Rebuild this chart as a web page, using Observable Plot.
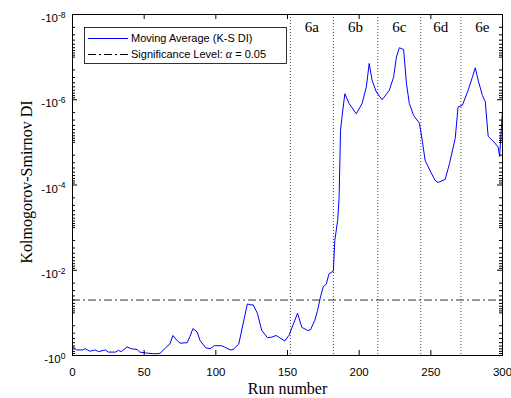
<!DOCTYPE html>
<html><head><meta charset="utf-8">
<script src="https://cdn.jsdelivr.net/npm/d3@7"></script>
<script src="https://cdn.jsdelivr.net/npm/@observablehq/plot@0.6"></script>
<style>body{margin:0;background:#fff}</style>
</head><body><div id="chart"></div>
<script>
// Run numbers
const runs = [
  0, 3, 7, 9, 12, 16, 18, 23, 25, 30,
  32, 34, 38, 41, 45, 47, 51, 57, 61, 65,
  68, 70, 73, 75, 80, 82, 84, 87, 89, 93,
  96, 99, 104, 106, 110, 112, 116, 119, 122, 124,
  126, 129, 132, 136, 139, 142, 144, 148, 151, 157,
  160, 164, 166, 169, 171, 173, 175, 177, 179, 182,
  183, 185, 186, 187, 188, 190, 193, 198, 202, 205,
  207, 209, 212, 216, 221, 224, 226, 228, 231, 233,
  235, 238, 242, 244, 246, 250, 253, 255, 260, 263,
  267, 269, 272, 276, 279, 281, 283, 286, 288, 290,
  294, 297, 298, 300
];
// Moving average of the K-S DI (negative values)
const ksdi = [
  -0.617, -0.741, -0.741, -0.692, -0.794, -0.741, -0.813, -0.741, -0.832, -0.832,
  -0.759, -0.813, -0.631, -0.692, -0.724, -0.832, -0.871, -0.912, -0.891, -0.661,
  -0.537, -0.339, -0.447, -0.513, -0.501, -0.355, -0.234, -0.282, -0.447, -0.661,
  -0.692, -0.589, -0.589, -0.631, -0.741, -0.724, -0.537, -0.182, -0.0617, -0.0646,
  -0.0646, -0.102, -0.257, -0.380, -0.372, -0.339, -0.372, -0.457, -0.339, -0.102,
  -0.219, -0.257, -0.251, -0.151, -0.0871, -0.0427, -0.0240, -0.0214, -0.0120, -0.0105,
  -0.0020, -6.76e-4, -2.0e-4, -5.25e-6, -2.57e-6, -7.24e-7, -1.23e-6, -2.14e-6, -1.23e-6, -5.01e-7,
  -1.41e-7, -3.47e-7, -6.61e-7, -1.0e-6, -6.03e-7, -2.95e-7, -1.0e-7, -6.03e-8, -6.61e-8, -4.17e-7,
  -1.23e-6, -2.34e-6, -3.55e-6, -8.91e-6, -2.63e-5, -5.01e-5, -7.76e-5, -8.71e-5, -7.41e-5, -3.16e-5,
  -8.13e-6, -1.48e-6, -1.35e-6, -6.03e-7, -2.95e-7, -1.78e-7, -3.47e-7, -7.94e-7, -1.12e-6, -7.24e-6,
  -9.77e-6, -1.29e-5, -2.14e-5, -1.78e-6
];
const alphaLevel = -0.05;
const phaseBounds = [152, 182, 213, 243, 271];
const phaseLabels = ["6a", "6b", "6c", "6d", "6e"];
const phaseLabelRuns = [167, 197.5, 228, 257, 286];
const xTicks = [0, 50, 100, 150, 200, 250, 300];
const yTickValues = [-1e-8, -1e-6, -1e-4, -1e-2, -1];
const yTickLabels = ["-10^-8", "-10^-6", "-10^-4", "-10^-2", "-10^0"];
const legendLabels = ["Moving Average (K-S DI)", "Significance Level: ", "\u03b1", " = 0.05"];
const xTitle = "Run number";
const yTitle = "Kolmogorov-Smirnov DI";

const data = runs.map((r, i) => ({run: r, di: ksdi[i]}));
const yMajor = yTickValues.map(v => -v);
const yMinor = [];
for (let e = -8; e < 0; e++) for (let k = 1; k < 10; k++) {
  const v = k * Math.pow(10, e);
  if (!(k === 1 && e % 2 === 0)) yMinor.push(v);
}

const W = 511, H = 398, mL = 72, mR = 9, mT = 14, mB = 43;
const PW = W - mL - mR, PH = H - mT - mB;
const serif = "'Liberation Serif', 'Times New Roman', serif";
const sans = "'Liberation Sans', Arial, Helvetica, sans-serif";
const tk = {stroke: "#000", strokeWidth: 1};

const chart = Plot.plot({
  width: W, height: H,
  marginLeft: mL, marginRight: mR, marginTop: mT, marginBottom: mB,
  style: {fontFamily: sans, fontSize: "11.5px", background: "#fff", color: "#000", overflow: "visible"},
  x: {domain: [0, 300], axis: null},
  y: {type: "log", domain: [1, 1e-8], axis: null},
  marks: [
    Plot.ruleX(phaseBounds, {x: d => d, stroke: "#444", strokeDasharray: "1,2", strokeWidth: 1}),
    Plot.ruleY([alphaLevel], {y: d => -d, stroke: "#333", strokeDasharray: "8,3,2,3", strokeWidth: 1}),
    Plot.line(data, {x: "run", y: d => -d.di, stroke: "#0000ff", strokeWidth: 1}),
    Plot.text(phaseLabels, {x: (d, i) => phaseLabelRuns[i], frameAnchor: "top", lineAnchor: "middle", dy: 13, text: d => d, fontFamily: serif, fontSize: 15}),
    // inward ticks (rules shortened with insets)
    Plot.ruleX(xTicks, {x: d => d, insetTop: PH - 5, ...tk}),
    Plot.ruleX(xTicks, {x: d => d, insetBottom: PH - 5, ...tk}),
    Plot.ruleY(yMajor, {y: d => d, insetRight: PW - 5, ...tk}),
    Plot.ruleY(yMinor, {y: d => d, insetRight: PW - 3, ...tk}),
    Plot.ruleY(yMajor, {y: d => d, insetLeft: PW - 5, ...tk}),
    Plot.ruleY(yMinor, {y: d => d, insetLeft: PW - 3, ...tk}),
    // tick labels
    Plot.axisX({anchor: "bottom", ticks: xTicks, tickSize: 0, tickPadding: 12, label: null, tickFormat: d => String(d)}),
    Plot.axisY({anchor: "left", ticks: yMajor, tickSize: 0, tickPadding: 7, dy: 4, label: null,
      tickFormat: d => yTickLabels[yMajor.indexOf(d)]}),
    Plot.text([yTitle], {frameAnchor: "left", textAnchor: "middle", lineAnchor: "middle", dx: -46, dy: -3, rotate: -90, text: d => d, fontFamily: serif, fontSize: 16}),
    Plot.text([xTitle], {frameAnchor: "bottom", textAnchor: "middle", lineAnchor: "middle", dy: 33, text: d => d, fontFamily: serif, fontSize: 16}),
    Plot.frame({stroke: "#000", strokeWidth: 1})
  ]
});

// superscript exponents on y tick labels
d3.select(chart).selectAll('g[aria-label="y-axis tick label"] text').each(function () {
  const s = this.textContent;
  const parts = s.split("^");
  const t = d3.select(this);
  t.text("");
  t.append("tspan").text(parts[0]);
  t.append("tspan").attr("dy", "-0.5em").attr("font-size", "8.5px").text(parts[1]);
});

// legend inside the axes
const svg = d3.select(chart);
const lg = svg.append("g").attr("font-family", sans).attr("font-size", "11px").attr("text-anchor", "start");
lg.append("rect").attr("x", 84.5).attr("y", 27.5).attr("width", 202).attr("height", 36)
  .attr("fill", "#fff").attr("stroke", "#000").attr("stroke-width", 0.8);
lg.append("line").attr("x1", 88).attr("x2", 128).attr("y1", 38.5).attr("y2", 38.5)
  .attr("stroke", "#0000ff").attr("stroke-width", 1);
lg.append("text").attr("x", 131).attr("y", 38.5).attr("dy", "0.35em").text(legendLabels[0]);
lg.append("line").attr("x1", 88).attr("x2", 128).attr("y1", 54.5).attr("y2", 54.5)
  .attr("stroke", "#000").attr("stroke-width", 1).attr("stroke-dasharray", "8,3,2,3");
const t2 = lg.append("text").attr("x", 131).attr("y", 54.5).attr("dy", "0.35em");
t2.append("tspan").text(legendLabels[1]);
t2.append("tspan").attr("font-family", serif).attr("font-style", "italic").attr("font-size", "12px").text(legendLabels[2]);
t2.append("tspan").text(legendLabels[3]);

document.getElementById("chart").appendChild(chart);
</script>
</body></html>
